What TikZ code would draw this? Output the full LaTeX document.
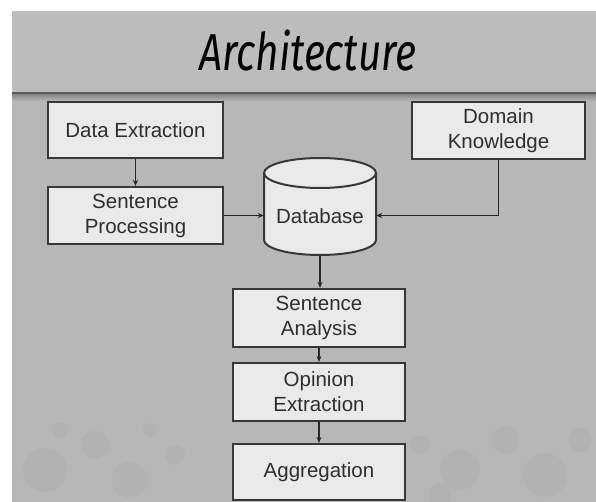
\documentclass[tikz,border=0pt]{standalone}
\usepackage{fontspec}
\setmainfont{Liberation Sans}
\newfontfamily\titlefont{Fira Sans}
\usetikzlibrary{arrows.meta}
\definecolor{bg}{HTML}{B7B7B7}
\definecolor{band}{HTML}{BCBCBC}
\definecolor{boxfill}{HTML}{EAEAEA}
\definecolor{edge}{HTML}{383838}
\definecolor{bubble}{HTML}{A9A9A9}
\tikzset{
  stepbox/.style={draw=edge, line width=2.2pt, fill=boxfill, minimum width=175pt, inner sep=0pt,
    align=center, font=\fontsize{20.5}{25}\selectfont, text=black!82},
  conn/.style={draw=black!85, line width=1.3pt, -{Stealth[length=6pt,width=5pt]}}
}
\begin{document}
\begin{tikzpicture}[x=1pt,y=-1pt]
\useasboundingbox (0,0) rectangle (596,502);
\fill[white] (0,0) rectangle (596,502);
\fill[bg] (12,11) rectangle (596,502);
\fill[band] (12,11) rectangle (596,92);
% bubbles
\foreach \cx/\cy/\r in {45/470/22, 95/445/14, 130/480/18, 175/455/10, 60/430/8, 460/470/20, 505/440/14, 545/475/22, 580/440/12, 420/445/9, 150/430/7, 440/495/12}
  \fill[bubble, opacity=0.35] (\cx,\cy) circle (\r);
% title line
\fill[black!65] (12,92) rectangle (596,95);
\shade[top color=black!45, bottom color=bg] (12,95) rectangle (596,101);
\node (title) at (308,51) {\scalebox{0.78}[1]{\titlefont\itshape\fontsize{52}{58}\selectfont Architecture}};
% boxes
\node[stepbox, minimum height=56pt] (de) at (135.5,130) {Data Extraction};
\node[stepbox, minimum height=57pt] (sp) at (135.5,215.5) {Sentence\\Processing};
\node[stepbox, minimum height=57pt, minimum width=173pt] (dk) at (498.5,130.5) {Domain\\Knowledge};
\node[stepbox, minimum width=172pt, minimum height=58pt] (sa) at (319,318) {Sentence\\Analysis};
\node[stepbox, minimum width=172pt, minimum height=58pt] (oe) at (319,392) {Opinion\\Extraction};
\node[stepbox, minimum width=172pt, minimum height=56pt] (ag) at (319,472) {Aggregation};
% database cylinder
\node[minimum width=112pt, minimum height=97pt, inner sep=0pt] (db) at (320,206.5) {};
\filldraw[draw=edge, line width=2pt, fill=boxfill]
  (264,173) -- (264,240) arc[start angle=180, end angle=0, x radius=56, y radius=15]
  -- (376,173) arc[start angle=0, end angle=-180, x radius=56, y radius=15] -- cycle;
\draw[edge, line width=2pt] (264,173) arc[start angle=180, end angle=0, x radius=56, y radius=15];
\node[font=\fontsize{20.5}{25}\selectfont, text=black!82] (dblabel) at (320,216) {Database};
% connectors
\draw[conn] (de.south) -- (sp.north);
\draw[conn] (sp.east) -- (sp.east -| db.west);
\draw[conn] (dk.south) |- (db.east |- sp.east);
\draw[conn] (db.south) -- (db.south |- sa.north);
\draw[conn] (sa.south) -- (oe.north);
\draw[conn] (oe.south) -- (ag.north);
\end{tikzpicture}
\end{document}
